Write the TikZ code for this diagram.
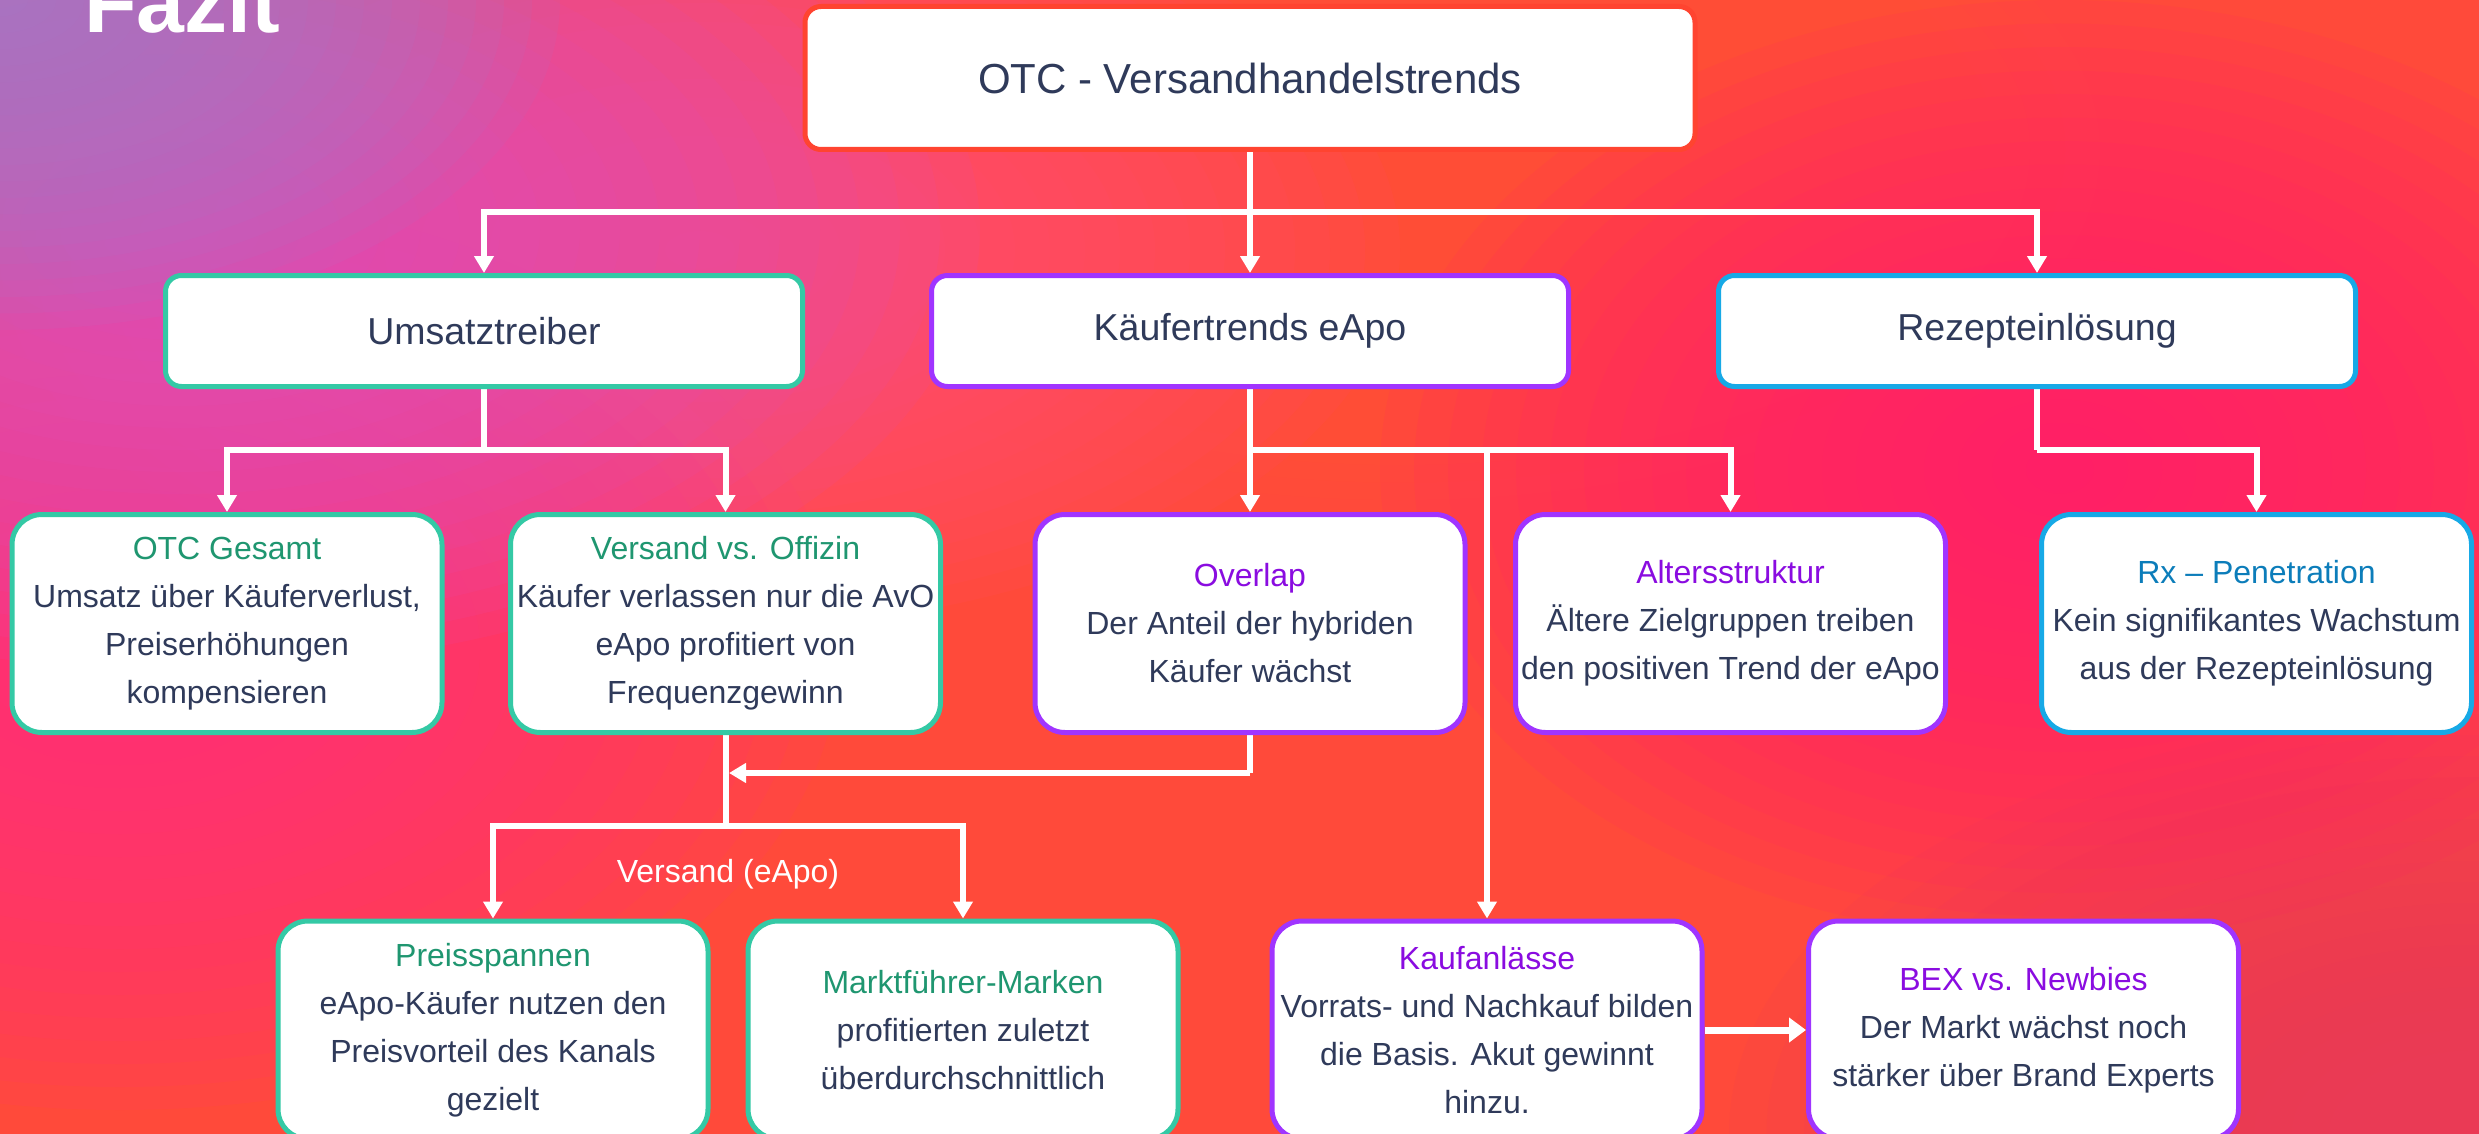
\documentclass[tikz,border=0pt]{standalone}
\usepackage{fontspec}
\setmainfont{Liberation Sans}
\usetikzlibrary{arrows.meta}

\definecolor{bgbase}{HTML}{FF4A3A}
\definecolor{bglav}{HTML}{A67BCB}
\definecolor{bgmag}{HTML}{DE52C0}
\definecolor{bgpink}{HTML}{FF3080}
\definecolor{bgtopm}{HTML}{FF4A78}
\definecolor{bghot}{HTML}{FF1F70}
\definecolor{bgbr}{HTML}{EA3A5E}
\definecolor{bgor}{HTML}{FF5636}
\definecolor{redb}{HTML}{FF4430}
\definecolor{tealb}{HTML}{34C9A5}
\definecolor{tealt}{HTML}{1F9670}
\definecolor{purpb}{HTML}{A034FF}
\definecolor{purpt}{HTML}{8A0CE0}
\definecolor{blueb}{HTML}{17A9E6}
\definecolor{bluet}{HTML}{0C7DBA}
\definecolor{bodytxt}{HTML}{2F3A5A}

\pgfdeclarelayer{bglayer}
\pgfdeclarelayer{connlayer}
\pgfsetlayers{bglayer,connlayer,main}

\newcommand\softblob[5]{%
  \foreach \k in {20,19,...,1}{%
    \fill[#1, fill opacity=0.1] (#2,#3) ellipse [x radius={#4pt/20*\k}, y radius={#5pt/20*\k}];
  }}

\begin{document}
\begin{tikzpicture}[x=1pt,y=-1pt,
  conn/.style={draw=white, line width=6pt},
  arr/.style={conn, -{Triangle[length=17pt,width=19pt]}},
  topbox/.style={draw=redb, fill=white, line width=5pt, rounded corners=16pt,
    minimum width=890pt, minimum height=143pt, inner sep=0pt,
    font=\fontsize{42}{50}\selectfont, text=bodytxt},
  lvlbox/.style={draw=#1, fill=white, line width=5pt, rounded corners=16pt,
    minimum width=637pt, minimum height=111pt, inner sep=0pt,
    font=\fontsize{37.5}{45}\selectfont, text=bodytxt},
  leaf/.style={draw=#1, fill=white, line width=5pt, rounded corners=30pt,
    minimum width=430pt, minimum height=218pt, inner sep=0pt, align=center,
    font=\fontsize{32}{48}\selectfont, text=bodytxt},
]
\useasboundingbox (0,0) rectangle (2479,1134);

% background
\begin{pgfonlayer}{bglayer}
\fill[bgbase] (-10,-10) rectangle (2490,1145);
\softblob{bgor}{1400}{150}{700}{350}
\softblob{bgbr}{2479}{1134}{750}{420}
\softblob{bghot}{2060}{470}{680}{470}
\softblob{bgtopm}{700}{250}{700}{380}
\softblob{bgpink}{120}{650}{720}{460}
\softblob{bgmag}{180}{230}{800}{440}
\softblob{bglav}{0}{0}{560}{330}
\end{pgfonlayer}

% title
\node[anchor=base west, text=white, font=\fontsize{86}{86}\selectfont\bfseries, inner sep=0pt] (fazit) at (84,33) {Fazit};

% level 1
\node[topbox] (top) at (1250,78) {OTC - Versandhandelstrends};

% level 2
\node[lvlbox=tealb] (umsatz) at (484,331) {Umsatztreiber};
\node[lvlbox=purpb] (kauf) at (1250,331) {Käufertrends eApo};
\node[lvlbox=blueb] (rezept) at (2037,331) {Rezepteinlösung};

% level 3
\node[leaf=tealb] (otc) at (227,623.5) {\textcolor{tealt}{OTC Gesamt}\\Umsatz über Käuferverlust,\\Preiserhöhungen\\kompensieren};
\node[leaf=tealb] (versand) at (725.5,623.5) {\textcolor{tealt}{Versand vs. Offizin}\\Käufer verlassen nur die AvO\\eApo profitiert von\\Frequenzgewinn};
\node[leaf=purpb] (overlap) at (1250,623.5) {\textcolor{purpt}{Overlap}\\Der Anteil der hybriden\\Käufer wächst};
\node[leaf=purpb] (alters) at (1730.5,623.5) {\textcolor{purpt}{Altersstruktur}\\Ältere Zielgruppen treiben\\den positiven Trend der eApo};
\node[leaf=blueb] (rx) at (2256.5,623.5) {\textcolor{bluet}{Rx – Penetration}\\Kein signifikantes Wachstum\\aus der Rezepteinlösung};

% level 4
\node[leaf=tealb] (preis) at (493,1030) {\textcolor{tealt}{Preisspannen}\\eApo-Käufer nutzen den\\Preisvorteil des Kanals\\gezielt};
\node[leaf=tealb] (markt) at (963,1030) {\textcolor{tealt}{Marktführer-Marken}\\profitierten zuletzt\\überdurchschnittlich};
\node[leaf=purpb] (kaufan) at (1487,1030) {\textcolor{purpt}{Kaufanlässe}\\Vorrats- und Nachkauf bilden\\die Basis. Akut gewinnt\\hinzu.};
\node[leaf=purpb] (bex) at (2023.5,1030) {\textcolor{purpt}{BEX vs. Newbies}\\Der Markt wächst noch\\stärker über Brand Experts};

% label
\node[anchor=base, text=white, font=\fontsize{32}{38}\selectfont, inner sep=0pt] (vlabel) at (728,882) {Versand (eApo)};

% junction points
\coordinate (j1) at (1250,212);
\coordinate (j2) at (484,450);
\coordinate (j3) at (1250,450);
\coordinate (j3b) at (1487,450);
\coordinate (j4) at (2037,450);
\coordinate (j5) at (1250,773);
\coordinate (j6) at (729,773);
\coordinate (j7) at (725.5,826);

\begin{pgfonlayer}{connlayer}
\draw[conn] (top.south) -- (j1);
\draw[arr] (j1) -| (umsatz.north);
\draw[arr] (j1) -| (rezept.north);
\draw[arr] (j1) -- (kauf.north);

\draw[conn] (umsatz.south) -- (j2);
\draw[arr] (j2) -| (otc.north);
\draw[arr] (j2) -| (versand.north);

\draw[arr] (kauf.south) -- (overlap.north);
\draw[arr] (j3) -| (alters.north);
\draw[arr] (j3b) -- (kaufan.north);

\draw[conn] (rezept.south) -- (j4);
\draw[arr] (j4) -| (rx.north);

\draw[conn] (overlap.south) -- (j5);
\draw[arr] (j5) -- (j6);

\draw[conn] (versand.south) -- (j7);
\draw[arr] (j7) -| (preis.north);
\draw[arr] (j7) -| (markt.north);

\draw[conn, line width=7pt, -{Triangle[length=17pt,width=24pt]}] (kaufan.east) -- (bex.west);
\end{pgfonlayer}
\end{tikzpicture}
\end{document}
